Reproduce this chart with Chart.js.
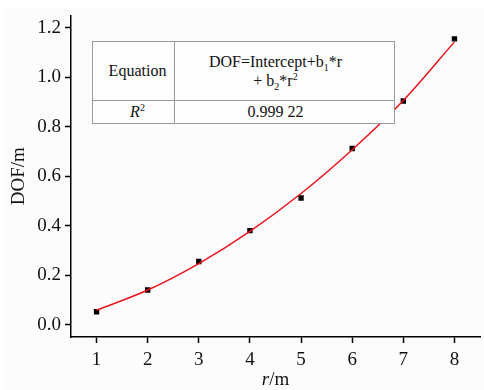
<!DOCTYPE html>
<html>
<head>
<meta charset="utf-8">
<script src="https://cdn.jsdelivr.net/npm/chart.js@4.4.1/dist/chart.umd.min.js"></script>
<style>
  body { margin: 0; background: #ffffff; }
  #wrap { position: relative; width: 484px; height: 390px; }
  #fitTable {
    position: absolute; left: 92px; top: 41px;
    border-collapse: collapse;
    background: #fdfdfd;
  }
  #fitTable td {
    border: 1px solid #9a9a9a; text-align: center; padding: 0;
    font-family: "Liberation Serif", "DejaVu Serif", serif;
    font-size: 16px; color: #111;
  }
  #fitTable sub, #fitTable sup { font-size: 10px; line-height: 0; }
</style>
</head>
<body>
<div id="wrap">
  <canvas id="mainChart" width="484" height="390"></canvas>
  <table id="fitTable">
    <tr style="height:59px">
      <td style="width:82px; padding-left:8px; box-sizing:border-box">Equation</td>
      <td style="width:201px; padding-right:18px; line-height:19px">DOF=Intercept+b<sub>1</sub>*r<br>+ b<sub>2</sub>*r<sup>2</sup></td>
    </tr>
    <tr style="height:23px">
      <td style="padding-left:8px"><i>R</i><sup>2</sup></td>
      <td style="padding-right:18px">0.999 22</td>
    </tr>
  </table>
</div>
<script>
const rValues = [1, 2, 3, 4, 5, 6, 7, 8];
const dofValues = [0.052, 0.14, 0.255, 0.38, 0.512, 0.712, 0.904, 1.155];
const fitValues = [0.058, 0.14, 0.247, 0.377, 0.530, 0.707, 0.906, 1.143];
const xTicks = [1, 2, 3, 4, 5, 6, 7, 8];
const yTicks = [0.0, 0.2, 0.4, 0.6, 0.8, 1.0, 1.2];

const serif = "'Liberation Serif', 'DejaVu Serif', serif";

// background + x axis title with italic r
const paperPlugin = {
    id: "paper",
    beforeDraw(chart) {
        const c = chart.ctx;
        c.save();
        c.fillStyle = "#fcfcfc";
        c.fillRect(3, 9, chart.width - 3, chart.height - 9);
        c.restore();
    },
    afterDraw(chart) {
        const c = chart.ctx;
        const area = chart.chartArea;
        c.save();
        c.fillStyle = "#111";
        c.textBaseline = "alphabetic";
        c.font = "italic 19px " + serif;
        const w1 = c.measureText("r").width;
        c.font = "19px " + serif;
        const w2 = c.measureText("/m").width;
        let x = (area.left + area.right) / 2 - (w1 + w2) / 2;
        c.font = "italic 19px " + serif;
        c.fillText("r", x, 385);
        c.font = "19px " + serif;
        c.fillText("/m", x + w1, 385);
        c.restore();
    }
};

let ctx = document.getElementById("mainChart").getContext("2d");
let mainChart = new Chart(ctx, {
    type: "scatter",
    data: {
        datasets: [{
            label: "fit",
            data: rValues.map((r, i) => ({ x: r, y: fitValues[i] })),
            showLine: true,
            borderColor: "#e8141c",
            borderWidth: 1.5,
            pointRadius: 0,
            cubicInterpolationMode: "monotone",
            order: 1
        }, {
            label: "DOF",
            data: rValues.map((r, i) => ({ x: r, y: dofValues[i] })),
            pointStyle: "rect",
            pointRadius: 3.8,
            backgroundColor: "#000",
            borderColor: "#000",
            borderWidth: 0,
            order: 2
        }]
    },
    options: {
        responsive: false,
        animation: false,
        layout: { padding: { top: 12, right: 0, left: 0, bottom: 0 } },
        plugins: { legend: { display: false }, tooltip: { enabled: false } },
        scales: {
            x: {
                type: "linear",
                min: 0.5,
                max: 8.5,
                afterBuildTicks: s => { s.ticks = xTicks.map(v => ({ value: v })); },
                afterFit: s => { s.height = 53; },
                border: { display: true, color: "#000", width: 1.5 },
                grid: { drawOnChartArea: false, drawTicks: true, tickLength: 6, tickColor: "#000", tickWidth: 1.5 },
                ticks: { color: "#111", font: { family: serif, size: 19 }, padding: 6, maxRotation: 0 },
                title: { display: false }
            },
            y: {
                type: "linear",
                min: -0.05,
                max: 1.25,
                afterBuildTicks: s => { s.ticks = yTicks.map(v => ({ value: v })); },
                afterFit: s => { s.width = 71; },
                border: { display: true, color: "#000", width: 1.5 },
                grid: { drawOnChartArea: false, drawTicks: true, tickLength: 6, tickColor: "#000", tickWidth: 1.5 },
                ticks: {
                    color: "#111", font: { family: serif, size: 19 }, padding: 4,
                    callback: v => v.toFixed(1)
                },
                title: {
                    display: true, text: "DOF/m", color: "#111",
                    font: { family: serif, size: 19 }, padding: { top: 8, bottom: 0 }
                }
            }
        }
    },
    plugins: [paperPlugin]
});
</script>
</body>
</html>
